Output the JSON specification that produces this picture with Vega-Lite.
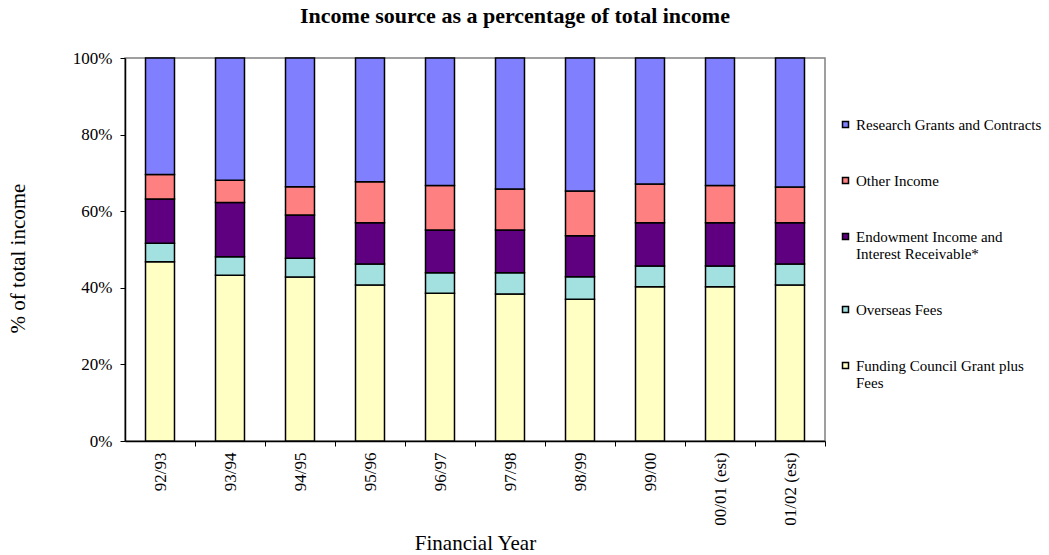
{
  "$schema": "https://vega.github.io/schema/vega-lite/v6.json",
  "width": 700,
  "height": 383,
  "autosize": {"type": "none"},
  "padding": {"left": 125, "top": 58, "right": 224, "bottom": 114},
  "background": "white",
  "title": {
    "text": "Income source as a percentage of total income",
    "font": "Liberation Serif",
    "fontSize": 22,
    "fontWeight": "bold",
    "color": "black",
    "anchor": "middle",
    "dx": 40,
    "offset": 21
  },
  "config": {
    "view": {"stroke": "#808080", "strokeWidth": 1.5},
    "font": "Liberation Serif"
  },
  "data": {
    "values": [
      {"year": "92/93", "series": "Funding Council Grant plus Fees", "rank": 1, "pct": 46.8},
      {"year": "92/93", "series": "Overseas Fees", "rank": 2, "pct": 4.8},
      {"year": "92/93", "series": "Endowment Income and Interest Receivable*", "rank": 3, "pct": 11.6},
      {"year": "92/93", "series": "Other Income", "rank": 4, "pct": 6.4},
      {"year": "92/93", "series": "Research Grants and Contracts", "rank": 5, "pct": 30.4},
      {"year": "93/94", "series": "Funding Council Grant plus Fees", "rank": 1, "pct": 43.3},
      {"year": "93/94", "series": "Overseas Fees", "rank": 2, "pct": 4.8},
      {"year": "93/94", "series": "Endowment Income and Interest Receivable*", "rank": 3, "pct": 14.2},
      {"year": "93/94", "series": "Other Income", "rank": 4, "pct": 5.8},
      {"year": "93/94", "series": "Research Grants and Contracts", "rank": 5, "pct": 31.9},
      {"year": "94/95", "series": "Funding Council Grant plus Fees", "rank": 1, "pct": 42.8},
      {"year": "94/95", "series": "Overseas Fees", "rank": 2, "pct": 4.9},
      {"year": "94/95", "series": "Endowment Income and Interest Receivable*", "rank": 3, "pct": 11.3},
      {"year": "94/95", "series": "Other Income", "rank": 4, "pct": 7.4},
      {"year": "94/95", "series": "Research Grants and Contracts", "rank": 5, "pct": 33.6},
      {"year": "95/96", "series": "Funding Council Grant plus Fees", "rank": 1, "pct": 40.7},
      {"year": "95/96", "series": "Overseas Fees", "rank": 2, "pct": 5.5},
      {"year": "95/96", "series": "Endowment Income and Interest Receivable*", "rank": 3, "pct": 10.8},
      {"year": "95/96", "series": "Other Income", "rank": 4, "pct": 10.7},
      {"year": "95/96", "series": "Research Grants and Contracts", "rank": 5, "pct": 32.3},
      {"year": "96/97", "series": "Funding Council Grant plus Fees", "rank": 1, "pct": 38.6},
      {"year": "96/97", "series": "Overseas Fees", "rank": 2, "pct": 5.3},
      {"year": "96/97", "series": "Endowment Income and Interest Receivable*", "rank": 3, "pct": 11.2},
      {"year": "96/97", "series": "Other Income", "rank": 4, "pct": 11.6},
      {"year": "96/97", "series": "Research Grants and Contracts", "rank": 5, "pct": 33.3},
      {"year": "97/98", "series": "Funding Council Grant plus Fees", "rank": 1, "pct": 38.4},
      {"year": "97/98", "series": "Overseas Fees", "rank": 2, "pct": 5.5},
      {"year": "97/98", "series": "Endowment Income and Interest Receivable*", "rank": 3, "pct": 11.2},
      {"year": "97/98", "series": "Other Income", "rank": 4, "pct": 10.7},
      {"year": "97/98", "series": "Research Grants and Contracts", "rank": 5, "pct": 34.2},
      {"year": "98/99", "series": "Funding Council Grant plus Fees", "rank": 1, "pct": 37.0},
      {"year": "98/99", "series": "Overseas Fees", "rank": 2, "pct": 5.9},
      {"year": "98/99", "series": "Endowment Income and Interest Receivable*", "rank": 3, "pct": 10.7},
      {"year": "98/99", "series": "Other Income", "rank": 4, "pct": 11.7},
      {"year": "98/99", "series": "Research Grants and Contracts", "rank": 5, "pct": 34.7},
      {"year": "99/00", "series": "Funding Council Grant plus Fees", "rank": 1, "pct": 40.3},
      {"year": "99/00", "series": "Overseas Fees", "rank": 2, "pct": 5.4},
      {"year": "99/00", "series": "Endowment Income and Interest Receivable*", "rank": 3, "pct": 11.3},
      {"year": "99/00", "series": "Other Income", "rank": 4, "pct": 10.1},
      {"year": "99/00", "series": "Research Grants and Contracts", "rank": 5, "pct": 32.9},
      {"year": "00/01 (est)", "series": "Funding Council Grant plus Fees", "rank": 1, "pct": 40.3},
      {"year": "00/01 (est)", "series": "Overseas Fees", "rank": 2, "pct": 5.4},
      {"year": "00/01 (est)", "series": "Endowment Income and Interest Receivable*", "rank": 3, "pct": 11.3},
      {"year": "00/01 (est)", "series": "Other Income", "rank": 4, "pct": 9.7},
      {"year": "00/01 (est)", "series": "Research Grants and Contracts", "rank": 5, "pct": 33.3},
      {"year": "01/02 (est)", "series": "Funding Council Grant plus Fees", "rank": 1, "pct": 40.7},
      {"year": "01/02 (est)", "series": "Overseas Fees", "rank": 2, "pct": 5.5},
      {"year": "01/02 (est)", "series": "Endowment Income and Interest Receivable*", "rank": 3, "pct": 10.8},
      {"year": "01/02 (est)", "series": "Other Income", "rank": 4, "pct": 9.3},
      {"year": "01/02 (est)", "series": "Research Grants and Contracts", "rank": 5, "pct": 33.7}
    ]
  },
  "mark": {"type": "bar", "stroke": "black", "strokeWidth": 1.5},
  "encoding": {
    "x": {
      "field": "year",
      "type": "nominal",
      "sort": null,
      "scale": {"paddingInner": 0.586, "paddingOuter": 0.293},
      "axis": {
        "title": "Financial Year",
        "titleFont": "Liberation Serif",
        "titleFontSize": 21,
        "titleFontWeight": "normal",
        "titleColor": "black",
        "titleY": 91,
        "labelAngle": -90,
        "labelFont": "Liberation Serif",
        "labelFontSize": 17,
        "labelColor": "black",
        "labelPadding": 6,
        "tickOffset": 35,
        "labelOffset": -35,
        "tickColor": "black",
        "tickSize": 5,
        "domainColor": "black",
        "domainWidth": 1.5
      }
    },
    "y": {
      "field": "pct",
      "type": "quantitative",
      "stack": "normalize",
      "scale": {"domain": [0, 1]},
      "axis": {
        "title": "% of total income",
        "titleFont": "Liberation Serif",
        "titleFontSize": 21,
        "titleFontWeight": "normal",
        "titleColor": "black",
        "titleX": -97,
        "titleY": 200,
        "format": ".0%",
        "values": [0, 0.2, 0.4, 0.6, 0.8, 1],
        "grid": false,
        "labelFont": "Liberation Serif",
        "labelFontSize": 17,
        "labelColor": "black",
        "labelPadding": 8,
        "tickColor": "black",
        "tickSize": 5,
        "domainColor": "black",
        "domainWidth": 1.5
      }
    },
    "color": {
      "field": "series",
      "type": "nominal",
      "scale": {
        "domain": ["Research Grants and Contracts", "Other Income", "Endowment Income and Interest Receivable*", "Overseas Fees", "Funding Council Grant plus Fees"],
        "range": ["#8080FF", "#FF8080", "#5F0080", "#A3E0E0", "#FFFFC4"]
      },
      "legend": {
        "title": null,
        "orient": "none",
        "legendX": 713,
        "legendY": 59,
        "symbolType": "square",
        "symbolSize": 36,
        "symbolStrokeColor": "black",
        "symbolStrokeWidth": 1.5,
        "symbolOpacity": 1,
        "labelFont": "Liberation Serif",
        "labelFontSize": 15,
        "labelColor": "black",
        "labelLimit": 300,
        "labelOffset": 3,
        "rowPadding": 40,
        "labelExpr": "datum.label == 'Endowment Income and Interest Receivable*' ? ['Endowment Income and', 'Interest Receivable*'] : datum.label == 'Funding Council Grant plus Fees' ? ['Funding Council Grant plus', 'Fees'] : datum.label"
      }
    },
    "order": {"field": "rank", "type": "quantitative"}
  }
}
